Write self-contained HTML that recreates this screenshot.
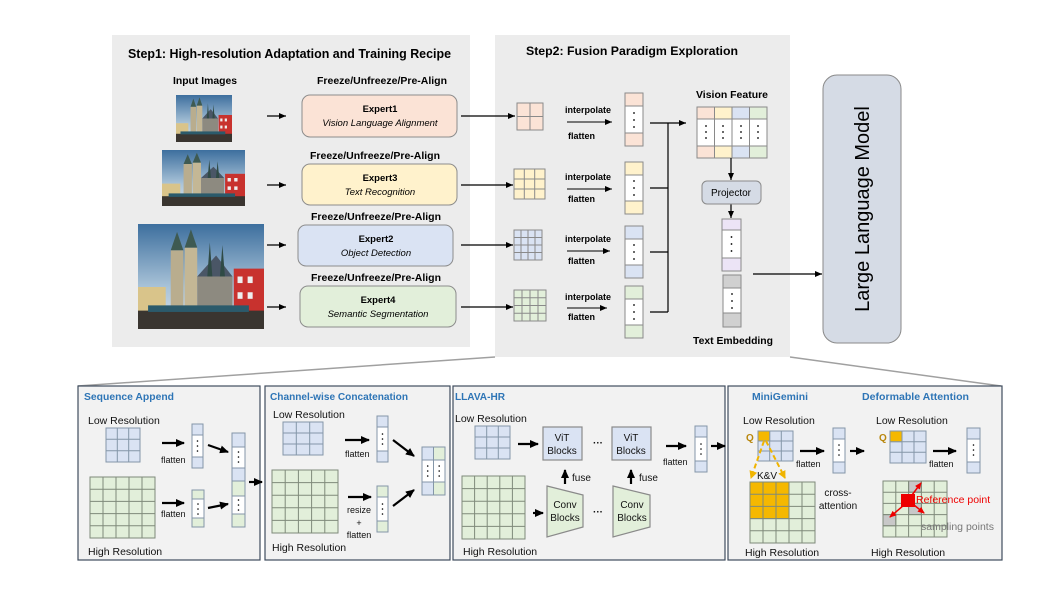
<!DOCTYPE html>
<html><head><meta charset="utf-8"><style>
html,body{margin:0;padding:0;background:#fff;}
svg{display:block;font-family:"Liberation Sans",Arial,sans-serif;}
</style></head><body>
<svg width="1044" height="593" viewBox="0 0 1044 593" xmlns="http://www.w3.org/2000/svg">
<defs>
<marker id="a" markerWidth="8" markerHeight="8" refX="7" refY="4" orient="auto" markerUnits="userSpaceOnUse"><path d="M0,1 L7,4 L0,7 Z" fill="#000"/></marker>
<marker id="b" markerWidth="10" markerHeight="10" refX="8" refY="5" orient="auto" markerUnits="userSpaceOnUse"><path d="M0,1 L9,5 L0,9 Z" fill="#000"/></marker>
<marker id="o" markerWidth="10" markerHeight="10" refX="7" refY="5" orient="auto" markerUnits="userSpaceOnUse"><path d="M0,1 L8,5 L0,9 Z" fill="#f0b400"/></marker>
<marker id="r" markerWidth="8" markerHeight="8" refX="6" refY="4" orient="auto" markerUnits="userSpaceOnUse"><path d="M0,1 L7,4 L0,7 Z" fill="#e00"/></marker>
<linearGradient id="sky" x1="0" y1="0" x2="0" y2="1"><stop offset="0" stop-color="#3d6f9e"/><stop offset="0.6" stop-color="#a9c3d8"/><stop offset="1" stop-color="#d8e2ea"/></linearGradient>
<symbol id="pic" viewBox="0 0 100 80" preserveAspectRatio="none">
<rect width="100" height="80" fill="url(#sky)"/>
<rect x="0" y="48" width="22" height="32" fill="#d9c48a"/>
<rect x="26" y="20" width="10" height="50" fill="#b9ad8e"/>
<rect x="37" y="18" width="10" height="52" fill="#c4b795"/>
<path d="M26,20 L31,6 L36,20Z M37,18 L42,4 L47,18Z" fill="#3e5a52"/>
<path d="M47,40 L75,40 L75,70 L47,70Z" fill="#8d8a80"/>
<path d="M47,40 L62,24 L75,40Z" fill="#4a5666"/>
<path d="M55,40 L57,14 L59,40Z M65,40 L67,16 L69,40Z" fill="#2f4a45"/>
<rect x="76" y="34" width="24" height="40" fill="#c8322e"/>
<rect x="79" y="40" width="4" height="5" fill="#eee"/><rect x="87" y="40" width="4" height="5" fill="#eee"/><rect x="79" y="52" width="4" height="5" fill="#eee"/><rect x="87" y="52" width="4" height="5" fill="#eee"/>
<rect x="0" y="66" width="100" height="14" fill="#3a3530"/>
<rect x="8" y="62" width="80" height="5" fill="#2b5a6b"/>
</symbol>
</defs>

<rect x="112" y="35" width="358" height="312" fill="#ececec"/>
<text x="128" y="58" font-size="13" font-weight="bold" textLength="323" lengthAdjust="spacingAndGlyphs">Step1: High-resolution Adaptation and Training Recipe</text>
<text x="205" y="84" font-size="10" font-weight="bold" text-anchor="middle" textLength="64" lengthAdjust="spacingAndGlyphs">Input Images</text>
<g font-size="10" font-weight="bold" text-anchor="middle">
<text x="382" y="84" textLength="130" lengthAdjust="spacingAndGlyphs">Freeze/Unfreeze/Pre-Align</text>
<text x="375" y="159" textLength="130" lengthAdjust="spacingAndGlyphs">Freeze/Unfreeze/Pre-Align</text>
<text x="376" y="220" textLength="130" lengthAdjust="spacingAndGlyphs">Freeze/Unfreeze/Pre-Align</text>
<text x="376" y="281" textLength="130" lengthAdjust="spacingAndGlyphs">Freeze/Unfreeze/Pre-Align</text>
</g>
<use href="#pic" x="176" y="95" width="56" height="47"/>
<use href="#pic" x="162" y="150" width="83" height="56"/>
<use href="#pic" x="138" y="224" width="126" height="105"/>
<g stroke="#000" stroke-width="1.2" marker-end="url(#a)">
<line x1="267" y1="116" x2="286" y2="116"/><line x1="267" y1="185" x2="286" y2="185"/>
<line x1="267" y1="245" x2="286" y2="245"/><line x1="267" y1="307" x2="286" y2="307"/>
</g>
<g stroke="#8c8c8c" stroke-width="1">
<rect x="302" y="95" width="155" height="42" rx="8" fill="#fbe3d6"/>
<rect x="302" y="164" width="155" height="41" rx="8" fill="#fff2cc"/>
<rect x="298" y="225" width="155" height="41" rx="8" fill="#dae3f3"/>
<rect x="300" y="286" width="156" height="41" rx="8" fill="#e2efda"/>
</g>
<g font-size="9.5" text-anchor="middle">
<text x="380" y="112" font-weight="bold">Expert1</text><text x="380" y="126" font-style="italic">Vision Language Alignment</text>
<text x="380" y="181" font-weight="bold">Expert3</text><text x="380" y="195" font-style="italic">Text Recognition</text>
<text x="376" y="242" font-weight="bold">Expert2</text><text x="376" y="256" font-style="italic">Object Detection</text>
<text x="378" y="303" font-weight="bold">Expert4</text><text x="378" y="317" font-style="italic">Semantic Segmentation</text>
</g>

<rect x="495" y="35" width="295" height="322" fill="#ececec"/>
<text x="526" y="55" font-size="12" font-weight="bold" textLength="212" lengthAdjust="spacingAndGlyphs">Step2: Fusion Paradigm Exploration</text>
<g stroke="#000" stroke-width="1.2" marker-end="url(#a)">
<line x1="461" y1="116" x2="515" y2="116"/><line x1="461" y1="185" x2="513" y2="185"/>
<line x1="461" y1="245" x2="513" y2="245"/><line x1="461" y1="307" x2="513" y2="307"/>
</g>
<g stroke="#8a8a8a" stroke-width="1">
<rect x="517" y="103" width="26" height="27" fill="#fbe3d6"/><path d="M530,103V130M517,116.5H543"/>
<rect x="514" y="169" width="31" height="30" fill="#fff2cc"/><path d="M524.3,169V199M534.7,169V199M514,179H545M514,189H545"/>
<rect x="514" y="230" width="28" height="30" fill="#dae3f3"/><path d="M521,230V260M528,230V260M535,230V260M514,237.5H542M514,245H542M514,252.5H542"/>
<rect x="514" y="290" width="32" height="31" fill="#e2efda"/><path d="M522,290V321M530,290V321M538,290V321M514,297.75H546M514,305.5H546M514,313.25H546"/>
</g>
<g font-size="9" font-weight="bold">
<text x="565" y="113">interpolate</text><text x="568" y="139">flatten</text>
<text x="565" y="180">interpolate</text><text x="568" y="202">flatten</text>
<text x="565" y="242">interpolate</text><text x="568" y="264">flatten</text>
<text x="565" y="300">interpolate</text><text x="568" y="320">flatten</text>
</g>
<g stroke="#000" stroke-width="1" marker-end="url(#a)">
<line x1="567" y1="122" x2="612" y2="122"/><line x1="567" y1="189" x2="612" y2="189"/>
<line x1="567" y1="251" x2="610" y2="251"/><line x1="567" y1="308" x2="607" y2="308"/>
</g>
<g stroke="#8a8a8a" stroke-width="1">
<rect x="625" y="93" width="18" height="53" fill="#fff"/><rect x="625" y="93" width="18" height="13" fill="#fbe3d6"/><rect x="625" y="133" width="18" height="13" fill="#fbe3d6"/>
<rect x="625" y="162" width="18" height="52" fill="#fff"/><rect x="625" y="162" width="18" height="13" fill="#fff2cc"/><rect x="625" y="201" width="18" height="13" fill="#fff2cc"/>
<rect x="625" y="226" width="18" height="52" fill="#fff"/><rect x="625" y="226" width="18" height="13" fill="#dae3f3"/><rect x="625" y="265" width="18" height="13" fill="#dae3f3"/>
<rect x="625" y="286" width="18" height="52" fill="#fff"/><rect x="625" y="286" width="18" height="13" fill="#e2efda"/><rect x="625" y="325" width="18" height="13" fill="#e2efda"/>
</g>
<g fill="#000">
<circle cx="634" cy="113" r="0.9"/><circle cx="634" cy="120" r="0.9"/><circle cx="634" cy="127" r="0.9"/>
<circle cx="634" cy="181" r="0.9"/><circle cx="634" cy="188" r="0.9"/><circle cx="634" cy="195" r="0.9"/>
<circle cx="634" cy="245" r="0.9"/><circle cx="634" cy="252" r="0.9"/><circle cx="634" cy="259" r="0.9"/>
<circle cx="634" cy="305" r="0.9"/><circle cx="634" cy="312" r="0.9"/><circle cx="634" cy="319" r="0.9"/>
</g>
<g stroke="#000" stroke-width="1.2" fill="none">
<path d="M650,188H668M650,252H668M650,312H668M668,123V312"/>
<line x1="650" y1="123" x2="686" y2="123" marker-end="url(#a)"/>
</g>
<text x="732" y="98" font-size="10" font-weight="bold" text-anchor="middle" textLength="72" lengthAdjust="spacingAndGlyphs">Vision Feature</text>
<g stroke="#8a8a8a" stroke-width="1">
<rect x="697" y="107" width="70" height="51" fill="#fff"/>
<rect x="697" y="107" width="17.5" height="12" fill="#fbe3d6"/><rect x="714.5" y="107" width="17.5" height="12" fill="#fff2cc"/><rect x="732" y="107" width="17.5" height="12" fill="#dae3f3"/><rect x="749.5" y="107" width="17.5" height="12" fill="#e2efda"/>
<rect x="697" y="146" width="17.5" height="12" fill="#fbe3d6"/><rect x="714.5" y="146" width="17.5" height="12" fill="#fff2cc"/><rect x="732" y="146" width="17.5" height="12" fill="#dae3f3"/><rect x="749.5" y="146" width="17.5" height="12" fill="#e2efda"/>
<path d="M714.5,119V146M732,119V146M749.5,119V146"/>
</g>
<g fill="#000">
<circle cx="706" cy="126" r="0.9"/><circle cx="706" cy="132" r="0.9"/><circle cx="706" cy="138" r="0.9"/>
<circle cx="723" cy="126" r="0.9"/><circle cx="723" cy="132" r="0.9"/><circle cx="723" cy="138" r="0.9"/>
<circle cx="741" cy="126" r="0.9"/><circle cx="741" cy="132" r="0.9"/><circle cx="741" cy="138" r="0.9"/>
<circle cx="758" cy="126" r="0.9"/><circle cx="758" cy="132" r="0.9"/><circle cx="758" cy="138" r="0.9"/>
</g>
<g stroke="#000" stroke-width="1.2" marker-end="url(#a)">
<line x1="731" y1="158" x2="731" y2="180"/><line x1="731" y1="204" x2="731" y2="218"/>
<line x1="753" y1="274" x2="822" y2="274"/>
</g>
<rect x="702" y="181" width="59" height="23" rx="5" fill="#d5dbe5" stroke="#8a8a8a"/>
<text x="731" y="196" font-size="10" text-anchor="middle">Projector</text>
<g stroke="#8a8a8a" stroke-width="1">
<rect x="722" y="219" width="19" height="52" fill="#fff"/><rect x="722" y="219" width="19" height="11" fill="#ece4f6"/><rect x="722" y="258" width="19" height="13" fill="#ece4f6"/>
<rect x="723" y="275" width="18" height="52" fill="#fff"/><rect x="723" y="275" width="18" height="13" fill="#d0d0d0"/><rect x="723" y="313" width="18" height="14" fill="#d0d0d0"/>
</g>
<g fill="#000">
<circle cx="731.5" cy="237" r="0.9"/><circle cx="731.5" cy="244" r="0.9"/><circle cx="731.5" cy="251" r="0.9"/>
<circle cx="732" cy="294" r="0.9"/><circle cx="732" cy="301" r="0.9"/><circle cx="732" cy="308" r="0.9"/>
</g>
<text x="733" y="344" font-size="10" font-weight="bold" text-anchor="middle" textLength="80" lengthAdjust="spacingAndGlyphs">Text Embedding</text>
<rect x="823" y="75" width="78" height="268" rx="14" fill="#d5dbe5" stroke="#8a8a8a"/>
<text x="0" y="0" font-size="20" text-anchor="middle" transform="translate(869,209) rotate(-90)">Large Language Model</text>

<g stroke="#a0a0a0" stroke-width="1.5"><line x1="495" y1="357" x2="78" y2="386"/><line x1="790" y1="357" x2="1001" y2="386"/></g>

<g fill="#f2f2f2" stroke="#3f4d5e" stroke-width="1.2">
<rect x="78" y="386" width="182" height="174"/>
<rect x="265" y="386" width="185" height="174"/>
<rect x="453" y="386" width="272" height="174"/>
<rect x="728" y="386" width="274" height="174"/>
</g>
<g font-size="10.5" font-weight="bold" fill="#2e75b6">
<text x="84" y="400" textLength="90" lengthAdjust="spacingAndGlyphs">Sequence Append</text>
<text x="270" y="400" textLength="138" lengthAdjust="spacingAndGlyphs">Channel-wise Concatenation</text>
<text x="455" y="400" textLength="50" lengthAdjust="spacingAndGlyphs">LLAVA-HR</text>
<text x="752" y="400" textLength="56" lengthAdjust="spacingAndGlyphs">MiniGemini</text>
<text x="862" y="400" textLength="107" lengthAdjust="spacingAndGlyphs">Deformable Attention</text>
</g>
<g font-size="10.5" fill="#111">
<text x="88" y="424">Low Resolution</text><text x="88" y="555">High Resolution</text>
<text x="273" y="418">Low Resolution</text><text x="272" y="551">High Resolution</text>
<text x="455" y="422">Low Resolution</text><text x="463" y="555">High Resolution</text>
<text x="743" y="424">Low Resolution</text><text x="745" y="556">High Resolution</text>
<text x="876" y="424">Low Resolution</text><text x="871" y="556">High Resolution</text>
</g>
<g font-size="9" fill="#111">
<text x="161" y="463">flatten</text><text x="161" y="517">flatten</text>
<text x="345" y="457">flatten</text>
<text x="359" y="513" text-anchor="middle">resize</text><text x="359" y="526" text-anchor="middle">+</text><text x="359" y="538" text-anchor="middle">flatten</text>
<text x="663" y="465">flatten</text>
<text x="572" y="481" font-size="10">fuse</text><text x="639" y="481" font-size="10">fuse</text>
<text x="796" y="467">flatten</text><text x="929" y="467">flatten</text>
<text x="838" y="496" text-anchor="middle" font-size="10">cross-</text><text x="838" y="509" text-anchor="middle" font-size="10">attention</text>
</g>
<g stroke="#8496a8" stroke-width="1">
<rect x="106" y="428" width="34" height="34" fill="#dae3f3"/><path d="M117.3,428V462M128.7,428V462M106,439.3H140M106,450.7H140"/>
<rect x="283" y="422" width="40" height="33" fill="#dae3f3"/><path d="M296.3,422V455M309.7,422V455M283,433H323M283,444H323"/>
<rect x="475" y="426" width="35" height="33" fill="#dae3f3"/><path d="M486.7,426V459M498.3,426V459M475,437H510M475,448H510"/>
<rect x="758" y="431" width="35" height="30" fill="#dae3f3"/><path d="M769.7,431V461M781.3,431V461M758,441H793M758,451H793"/>
<rect x="758" y="431" width="11.7" height="10" fill="#f5b800"/>
<rect x="890" y="431" width="36" height="32" fill="#dae3f3"/><path d="M902,431V463M914,431V463M890,441.7H926M890,452.3H926"/>
<rect x="890" y="431" width="12" height="10.7" fill="#f5b800"/>
</g>
<g stroke="#7f8a7a" stroke-width="1">
<rect x="90" y="477" width="65" height="61" fill="#e2efda"/><path d="M103,477V538M116,477V538M129,477V538M142,477V538M90,489.2H155M90,501.4H155M90,513.6H155M90,525.8H155"/>
<rect x="272" y="470" width="66" height="63" fill="#e2efda"/><path d="M285.2,470V533M298.4,470V533M311.6,470V533M324.8,470V533M272,482.6H338M272,495.2H338M272,507.8H338M272,520.4H338"/>
<rect x="462" y="476" width="63" height="63" fill="#e2efda"/><path d="M474.6,476V539M487.2,476V539M499.8,476V539M512.4,476V539M462,488.6H525M462,501.2H525M462,513.8H525M462,526.4H525"/>
<rect x="750" y="482" width="65" height="61" fill="#e2efda"/>
<rect x="750" y="482" width="39" height="36.6" fill="#f5b800"/>
<path d="M763,482V543M776,482V543M789,482V543M802,482V543M750,494.2H815M750,506.4H815M750,518.6H815M750,530.8H815"/>
<rect x="883" y="481" width="64" height="56" fill="#e2efda"/>
<rect x="908.6" y="481" width="12.8" height="11.2" fill="#c8c8c8"/><rect x="908.6" y="503.4" width="12.8" height="11.2" fill="#c8c8c8"/><rect x="883" y="514.6" width="12.8" height="11.2" fill="#c8c8c8"/>
<path d="M895.8,481V537M908.6,481V537M921.4,481V537M934.2,481V537M883,492.2H947M883,503.4H947M883,514.6H947M883,525.8H947"/>
</g>
<text x="757" y="479" font-size="10" fill="#111">K&amp;V</text>
<g stroke="#8496a8" stroke-width="1">
<rect x="192" y="424" width="11" height="44" fill="#fff"/><rect x="192" y="424" width="11" height="11" fill="#dae3f3"/><rect x="192" y="457" width="11" height="11" fill="#dae3f3"/>
<rect x="192" y="490" width="12" height="37" fill="#fff"/><rect x="192" y="490" width="12" height="9" fill="#e2efda"/><rect x="192" y="518" width="12" height="9" fill="#e2efda"/>
<rect x="232" y="433" width="13" height="94" fill="#fff"/><rect x="232" y="433" width="13" height="14" fill="#dae3f3"/><rect x="232" y="468" width="13" height="13" fill="#dae3f3"/><rect x="232" y="481" width="13" height="15" fill="#e2efda"/><rect x="232" y="514" width="13" height="13" fill="#e2efda"/>
<rect x="377" y="416" width="11" height="46" fill="#fff"/><rect x="377" y="416" width="11" height="11" fill="#dae3f3"/><rect x="377" y="451" width="11" height="11" fill="#dae3f3"/>
<rect x="377" y="486" width="11" height="46" fill="#fff"/><rect x="377" y="486" width="11" height="11" fill="#e2efda"/><rect x="377" y="521" width="11" height="11" fill="#e2efda"/>
<rect x="422" y="447" width="23" height="48" fill="#fff"/><rect x="422" y="447" width="11.5" height="13" fill="#dae3f3"/><rect x="433.5" y="447" width="11.5" height="13" fill="#e2efda"/><rect x="422" y="482" width="11.5" height="13" fill="#dae3f3"/><rect x="433.5" y="482" width="11.5" height="13" fill="#e2efda"/><path d="M433.5,460V482"/>
<rect x="695" y="426" width="12" height="46" fill="#fff"/><rect x="695" y="426" width="12" height="11" fill="#dae3f3"/><rect x="695" y="461" width="12" height="11" fill="#dae3f3"/>
<rect x="833" y="428" width="12" height="45" fill="#fff"/><rect x="833" y="428" width="12" height="11" fill="#dae3f3"/><rect x="833" y="462" width="12" height="11" fill="#dae3f3"/>
<rect x="967" y="428" width="13" height="45" fill="#fff"/><rect x="967" y="428" width="13" height="11" fill="#dae3f3"/><rect x="967" y="462" width="13" height="11" fill="#dae3f3"/>
</g>
<g fill="#000">
<circle cx="197.5" cy="441" r="0.8"/><circle cx="197.5" cy="446" r="0.8"/><circle cx="197.5" cy="451" r="0.8"/>
<circle cx="198" cy="504" r="0.8"/><circle cx="198" cy="509" r="0.8"/><circle cx="198" cy="514" r="0.8"/>
<circle cx="238.5" cy="452" r="0.8"/><circle cx="238.5" cy="457" r="0.8"/><circle cx="238.5" cy="462" r="0.8"/>
<circle cx="238.5" cy="500" r="0.8"/><circle cx="238.5" cy="505" r="0.8"/><circle cx="238.5" cy="510" r="0.8"/>
<circle cx="382.5" cy="434" r="0.8"/><circle cx="382.5" cy="439" r="0.8"/><circle cx="382.5" cy="444" r="0.8"/>
<circle cx="382.5" cy="504" r="0.8"/><circle cx="382.5" cy="509" r="0.8"/><circle cx="382.5" cy="514" r="0.8"/>
<circle cx="427.7" cy="466" r="0.8"/><circle cx="427.7" cy="471" r="0.8"/><circle cx="427.7" cy="476" r="0.8"/>
<circle cx="439.2" cy="466" r="0.8"/><circle cx="439.2" cy="471" r="0.8"/><circle cx="439.2" cy="476" r="0.8"/>
<circle cx="701" cy="444" r="0.8"/><circle cx="701" cy="449" r="0.8"/><circle cx="701" cy="454" r="0.8"/>
<circle cx="839" cy="445" r="0.8"/><circle cx="839" cy="450" r="0.8"/><circle cx="839" cy="455" r="0.8"/>
<circle cx="973.5" cy="445" r="0.8"/><circle cx="973.5" cy="450" r="0.8"/><circle cx="973.5" cy="455" r="0.8"/>
</g>
<g stroke="#000" stroke-width="2.2" marker-end="url(#b)">
<line x1="162" y1="443" x2="184" y2="443"/><line x1="162" y1="503" x2="184" y2="503"/>
<line x1="208" y1="445" x2="228" y2="452"/><line x1="208" y1="508" x2="228" y2="504"/>
<line x1="249" y1="482" x2="262" y2="482"/>
<line x1="345" y1="440" x2="369" y2="440"/><line x1="348" y1="497" x2="371" y2="497"/>
<line x1="393" y1="440" x2="414" y2="456"/><line x1="393" y1="506" x2="414" y2="490"/>
<line x1="518" y1="444" x2="538" y2="444"/><line x1="533" y1="513" x2="543" y2="513"/>
<line x1="666" y1="446" x2="686" y2="446"/><line x1="711" y1="446" x2="725" y2="446"/>
<line x1="800" y1="451" x2="824" y2="451"/><line x1="850" y1="451" x2="864" y2="451"/>
<line x1="933" y1="451" x2="956" y2="451"/>
<line x1="565" y1="484" x2="565" y2="470"/><line x1="631" y1="484" x2="631" y2="470"/>
</g>
<g stroke="#8a8a8a" stroke-width="1.2">
<rect x="543" y="427" width="39" height="33" fill="#dae3f3"/>
<rect x="612" y="427" width="39" height="33" fill="#dae3f3"/>
<path d="M547,486 L583,495 L583,527 L547,537 Z" fill="#e2efda"/>
<path d="M613,486 L650,495 L650,527 L613,537 Z" fill="#e2efda"/>
</g>
<g font-size="10" text-anchor="middle" fill="#111">
<text x="562" y="441">ViT</text><text x="562" y="454">Blocks</text>
<text x="631" y="441">ViT</text><text x="631" y="454">Blocks</text>
<text x="565" y="508">Conv</text><text x="565" y="521">Blocks</text>
<text x="632" y="508">Conv</text><text x="632" y="521">Blocks</text>
<text x="598" y="446" font-weight="bold">···</text><text x="598" y="515" font-weight="bold">···</text>
</g>
<text x="746" y="441" font-size="10" font-weight="bold" fill="#b8860b">Q</text>
<text x="879" y="441" font-size="10" font-weight="bold" fill="#b8860b">Q</text>
<g stroke="#f0b400" stroke-width="2" stroke-dasharray="5,3" fill="none">
<line x1="764" y1="441" x2="751" y2="478" marker-end="url(#o)"/>
<line x1="766" y1="441" x2="785" y2="478" marker-end="url(#o)"/>
</g>
<rect x="901" y="494" width="14" height="13" fill="#e00"/>
<g stroke="#e00" stroke-width="1.5">
<line x1="912" y1="495" x2="921" y2="483" marker-end="url(#r)"/>
<line x1="904" y1="505" x2="890" y2="517" marker-end="url(#r)"/>
<line x1="914" y1="505" x2="924" y2="513" marker-end="url(#r)"/>
</g>
<text x="916" y="503" font-size="10.5" fill="#e00">Reference point</text>
<text x="921" y="530" font-size="10.5" fill="#777">sampling points</text>
</svg>
</body></html>
